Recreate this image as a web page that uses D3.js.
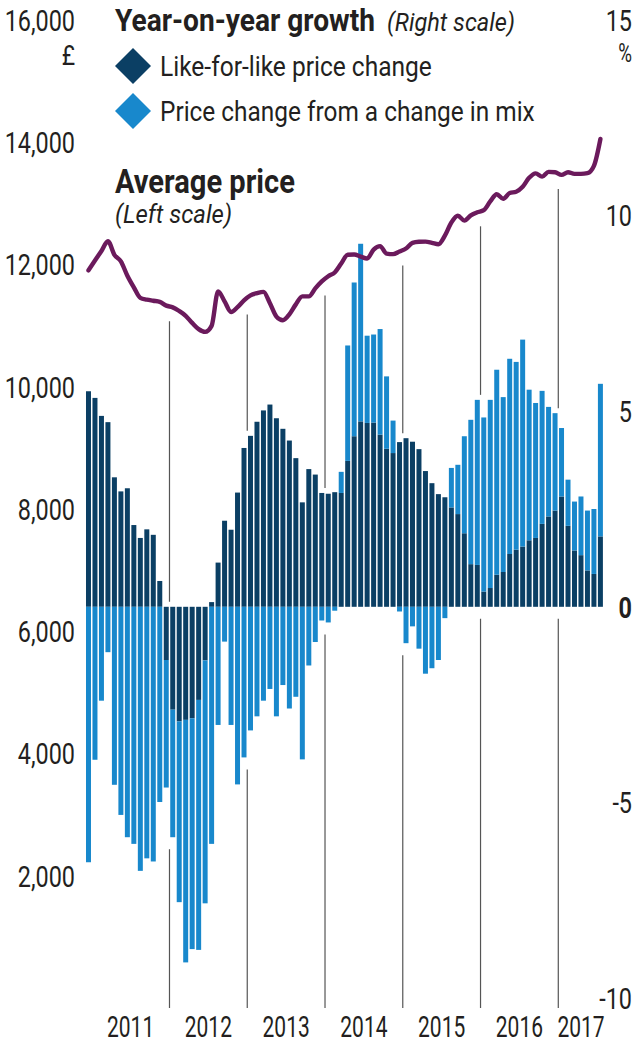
<!DOCTYPE html>
<html><head><meta charset="utf-8">
<script src="https://cdn.jsdelivr.net/npm/d3@7"></script>
<style>
body{margin:0;background:#fff}
svg{display:block}
text{font-family:Roboto,"Open Sans",sans-serif;fill:#231f20}
</style>
</head><body>
<svg id="chart" width="640" height="1045"></svg>
<script>
const months = ["2010-12",
 "2011-01","2011-02","2011-03","2011-04","2011-05","2011-06","2011-07","2011-08","2011-09","2011-10","2011-11","2011-12",
 "2012-01","2012-02","2012-03","2012-04","2012-05","2012-06","2012-07","2012-08","2012-09","2012-10","2012-11","2012-12",
 "2013-01","2013-02","2013-03","2013-04","2013-05","2013-06","2013-07","2013-08","2013-09","2013-10","2013-11","2013-12",
 "2014-01","2014-02","2014-03","2014-04","2014-05","2014-06","2014-07","2014-08","2014-09","2014-10","2014-11","2014-12",
 "2015-01","2015-02","2015-03","2015-04","2015-05","2015-06","2015-07","2015-08","2015-09","2015-10","2015-11","2015-12",
 "2016-01","2016-02","2016-03","2016-04","2016-05","2016-06","2016-07","2016-08","2016-09","2016-10","2016-11","2016-12",
 "2017-01","2017-02","2017-03","2017-04","2017-05","2017-06","2017-07"];

// Year-on-year growth, % (right scale)
const likeForLike = [5.51,
 5.34,4.88,4.72,3.31,2.95,3.03,2.09,1.76,1.98,1.84,0.66,-1.36,
 -2.63,-2.93,-2.89,-2.85,-2.38,-1.37,0.12,1.13,2.2,1.97,2.92,4.06,
 4.37,4.73,5.02,5.17,4.82,4.55,4.25,3.80,2.67,3.52,3.38,2.91,
 2.89,2.93,2.91,3.73,4.36,4.74,4.70,4.71,4.40,4.04,3.93,4.21,
 4.31,4.22,4.03,3.47,3.16,2.88,2.80,2.54,2.37,1.88,1.09,1.07,
 0.39,0.48,0.82,0.89,1.35,1.46,1.54,1.70,1.76,2.12,2.31,2.46,
 2.82,2.07,1.44,1.32,0.93,0.84,1.80];
const mixChange = [-6.53,
 -3.91,-2.40,-1.16,-4.55,-5.32,-5.89,-6.06,-6.75,-6.43,-6.51,-4.99,-3.26,
 -3.26,-4.62,-6.2,-5.9,-6.39,-6.21,-6.06,-3.02,-0.89,-3.02,-4.54,-3.85,
 -3.16,-2.8,-2.4,-2.1,-2.8,-2.0,-2.6,-2.3,-3.9,-1.5,-0.9,-0.35,
 -0.4,-0.1,0.54,2.95,3.93,4.54,2.23,2.25,2.70,1.85,0.83,-0.12,
 -0.93,-0.50,-1.07,-1.71,-1.57,-1.36,-0.29,1.01,1.26,2.48,3.69,4.22,
 4.45,4.81,5.24,4.47,4.99,4.80,5.29,3.85,3.45,3.40,2.80,2.49,
 1.75,1.18,1.25,1.50,1.53,1.66,3.90];
// Average price, £ (left scale)
const avgPrice = [11905,
 12064,12221,12380,12158,12052,11816,11625,11454,11425,11407,11389,11327,
 11299,11239,11161,11045,10943,10898,10996,11560,11397,11224,11303,11413,
 11495,11531,11552,11365,11148,11087,11185,11348,11478,11478,11609,11723,
 11808,11870,12016,12160,12163,12130,12097,12244,12300,12179,12169,12212,
 12261,12355,12372,12375,12355,12331,12472,12687,12798,12718,12804,12854,
 12888,13031,13149,13075,13170,13190,13271,13418,13491,13437,13515,13510,
 13466,13510,13483,13483,13494,13613,14053];

const leftTicks = [2000,4000,6000,8000,10000,12000,14000,16000];
const rightTicks = [-10,-5,0,5,10,15];
const years = ["2011","2012","2013","2014","2015","2016","2017"];
const seriesKeys = ["likeForLike","mixChange"];
const seriesNames = ["Like-for-like price change","Price change from a change in mix"];
const colors = {likeForLike:"#0b3f64", mixChange:"#1888cc", price:"#6b1a5c", rule:"#555"};

const svg = d3.select("#chart");

const x = d3.scaleBand().domain(months).range([85.25, 603.65]).paddingInner(0.23).paddingOuter(0.115);
const yR = d3.scaleLinear().domain([-10, 15]).range([998, 20]);
const yL = d3.scaleLinear().domain([0, 16000]).range([998, 20]);

// Place a text at (px,py) and squeeze it horizontally: by factor k, or to a target width w.
function place(sel, px, py, k, w){
  sel.each(function(d,i){
    const node = this;
    const X = typeof px === "function" ? px(d,i) : px;
    const Y = typeof py === "function" ? py(d,i) : py;
    const nat = node.getComputedTextLength();
    const tw = typeof w === "function" ? w(d,i) : w;
    const s = tw ? tw/nat : k;
    d3.select(node).attr("x",0).attr("y",0)
      .attr("transform",`translate(${X},${Y}) scale(${s},1)`);
  });
}

const rows = months.map((m,i)=>({month:m, likeForLike:likeForLike[i], mixChange:mixChange[i], price:avgPrice[i]}));
const stacked = d3.stack().keys(seriesKeys).offset(d3.stackOffsetDiverging)(rows);

// year rules
const bw = x.bandwidth();
const gap = x.step()-bw;
const ruleData = years.slice(1).map(yr=>{
  const i = months.indexOf(yr+"-01");
  const xs = x(months[i]) - gap/2;
  let top = Infinity, bot = -Infinity;
  [i-1,i].forEach(j=>{
    stacked.forEach(s=>{ const d=s[j]; top=Math.min(top,yR(d[1]),yR(d[0])); bot=Math.max(bot,yR(d[0]),yR(d[1])); });
  });
  const pTop = Math.max(yL(avgPrice[i-1]), yL(avgPrice[i]));
  return {x:xs, y1:pTop+14, y2:top-5, y3:bot+12, y4:1008};
});
const rules = svg.append("g").attr("stroke",colors.rule).attr("stroke-width",1.2);
ruleData.forEach(r=>{
  if (r.y2 > r.y1) rules.append("line").attr("x1",r.x).attr("x2",r.x).attr("y1",r.y1).attr("y2",r.y2);
  rules.append("line").attr("x1",r.x).attr("x2",r.x).attr("y1",r.y3).attr("y2",r.y4);
});

// bars
svg.append("g").selectAll("g").data(stacked).join("g")
  .attr("fill",d=>colors[d.key])
  .selectAll("rect").data(d=>d).join("rect")
  .attr("x",d=>x(d.data.month))
  .attr("width",bw)
  .attr("y",d=>yR(Math.max(d[0],d[1])))
  .attr("height",d=>Math.abs(yR(d[0])-yR(d[1])));

// price line
const line = d3.line().x(d=>x(d.month)+bw/2).y(d=>yL(d.price)).curve(d3.curveMonotoneX);
svg.append("path").datum(rows).attr("d",line).attr("fill","none")
  .attr("stroke",colors.price).attr("stroke-width",4.4).attr("stroke-linejoin","round").attr("stroke-linecap","round");

// left axis labels
const fmt = d3.format(",");
svg.append("g").selectAll("text").data(leftTicks).join("text")
  .attr("dy","0.36em").attr("text-anchor","end")
  .attr("font-size",30).text(d=>fmt(d)).call(place,75,d=>yL(d),0.78);
svg.append("text").attr("text-anchor","end").attr("font-size",27).text("£").call(place,75,65,0.85);

// right axis labels
svg.append("g").selectAll("text").data(rightTicks).join("text")
  .attr("dy","0.36em").attr("text-anchor","end")
  .attr("font-size",30).attr("font-weight",d=>d===0?"bold":"normal").text(d=>d).call(place,632,d=>yR(d),0.78);
svg.append("text").attr("text-anchor","end").attr("font-size",25).text("%").call(place,632,62,0.75);

// year labels
svg.append("g").selectAll("text").data(years).join("text")
  .attr("text-anchor","middle").attr("font-size",30).text(d=>d)
  .call(place, yr=>{
    const ms = months.filter(m=>m.startsWith(yr));
    return (x(ms[0]) + x(ms[ms.length-1]) + bw)/2;
  }, 1037, 0.7);

// headings and legend
svg.append("text").attr("font-size",32).attr("font-weight","bold")
  .text("Year-on-year growth").call(place,115,31,null,260);
svg.append("text").attr("font-size",26).attr("font-style","italic")
  .text("(Right scale)").call(place,387,31,null,128);

const leg = svg.append("g").selectAll("g").data(seriesKeys).join("g")
  .attr("transform",(d,i)=>`translate(133,${66+i*45})`);
leg.append("path").attr("d",d3.symbol(d3.symbolSquare,650)()).attr("transform","rotate(45)").attr("fill",d=>colors[d]);
leg.append("text").attr("font-size",27).text((d,i)=>seriesNames[i])
  .call(place,27,10,null,(d,i)=>[272,375][i]);

svg.append("text").attr("font-size",33).attr("font-weight","bold")
  .text("Average price").call(place,115,193,null,180);
svg.append("text").attr("font-size",26).attr("font-style","italic")
  .text("(Left scale)").call(place,115,223,null,117);
</script>
</body></html>
